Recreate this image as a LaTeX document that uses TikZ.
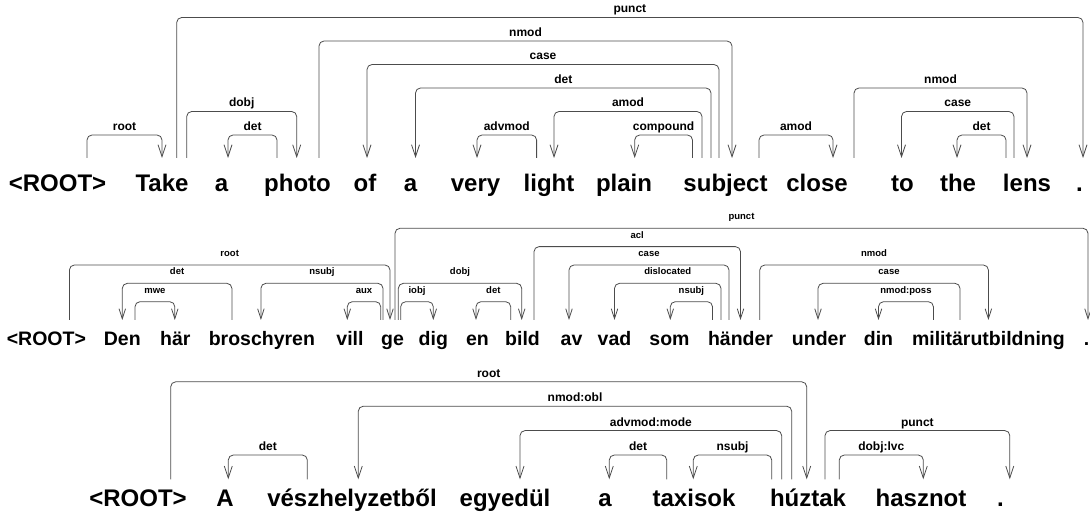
\documentclass[tikz,border=0pt]{standalone}
\usepackage{fontspec}
\setmainfont{Liberation Sans}
\usetikzlibrary{math,arrows.meta}

\tikzset{
  word/.style={font=\bfseries\fontsize{24}{24}\selectfont, anchor=base, inner sep=0pt},
  smallword/.style={word, font=\bfseries\fontsize{19.5}{20}\selectfont},
  deparc/.style={draw=black!70, line width=0.8pt, rounded corners=5pt, -{Straight Barb[length=12pt,width=8pt]}},
  smallarc/.style={deparc, -{Straight Barb[length=10pt,width=6.5pt]}},
  deplabel/.style={font=\bfseries\fontsize{12}{12}\selectfont, anchor=base, inner sep=0pt, yshift=4.5pt},
  smalllabel/.style={deplabel, font=\bfseries\fontsize{9.5}{10}\selectfont, yshift=4pt},
}

\begin{document}
\begin{tikzpicture}[x=1pt,y=1pt]
	\tikzmath{
		\gapA = 34; \lowA = 23; \stepA = 23.5;
		\gapB = 26; \lowB = 18.3; \stepB = 18.35;
		\gapC = 27.4; \lowC = 24.3; \stepC = 24.4;
	}
	\useasboundingbox (0,0) rectangle (1090,519);

	% sentence 1
	\node[word] (rootA) at (57.5,327) {<ROOT>};
	\node[word] (take) at (162,327) {Take};
	\node[word] (a1) at (221.5,327) {a};
	\node[word] (photo) at (297.5,327) {photo};
	\node[word] (of1) at (365,327) {of};
	\node[word] (a2) at (410.5,327) {a};
	\node[word] (very) at (475.5,327) {very};
	\node[word] (light) at (549,327) {light};
	\node[word] (plain) at (624,327) {plain};
	\node[word] (subject) at (725.5,327) {subject};
	\node[word] (close) at (817,327) {close};
	\node[word] (to1) at (902.5,327) {to};
	\node[word] (the1) at (958,327) {the};
	\node[word] (lens) at (1027,327) {lens};
	\node[word] (dotA) at (1079.5,327) {.};

	\foreach \src/\sx/\dst/\tx/\lvl/\lab in {
		rootA/29.5/take/0/1/root,
		take/14.7/dotA/3.5/6/punct,
		take/24.7/photo/-0.8/2/dobj,
		photo/-20.5/a1/6.5/1/det,
		photo/21.5/subject/6.5/5/nmod,
		subject/-6.5/of1/2/4/case,
		subject/-14.5/a2/5/3/det,
		light/-12.4/very/1.5/1/advmod,
		subject/-23.5/light/5/2/amod,
		subject/-33/plain/10.7/1/compound,
		subject/33.5/close/16/1/amod,
		close/37/lens/0/3/nmod,
		lens/-13/to1/-1/2/case,
		lens/-21/the1/-1/1/det}
		\draw[deparc] ([xshift=\sx pt,yshift=\gapA pt]\src.base) -- ++(0,{\lowA+\stepA*(\lvl-1)})
			-| ([xshift=\tx pt,yshift=\gapA pt]\dst.base) node[deplabel,pos=.25] {\lab};

	% sentence 2
	\node[smallword] (rootB) at (46.4,173) {<ROOT>};
	\node[smallword] (den) at (122.3,173) {Den};
	\node[smallword] (har) at (175.3,173) {här};
	\node[smallword] (brosch) at (261.9,173) {broschyren};
	\node[smallword] (vill) at (350,173) {vill};
	\node[smallword] (ge) at (392.5,173) {ge};
	\node[smallword] (dig) at (433.3,173) {dig};
	\node[smallword] (en) at (477.5,173) {en};
	\node[smallword] (bild) at (522.5,173) {bild};
	\node[smallword] (av) at (571.5,173) {av};
	\node[smallword] (vad) at (614.5,173) {vad};
	\node[smallword] (som) at (669.5,173) {som};
	\node[smallword] (hander) at (740.5,173) {händer};
	\node[smallword] (under) at (819,173) {under};
	\node[smallword] (din) at (878.5,173) {din};
	\node[smallword] (milit) at (988.4,173) {militärutbildning};
	\node[smallword] (dotB) at (1086.5,173) {.};

	\foreach \src/\sx/\dst/\tx/\lvl/\lab in {
		rootB/23/ge/-2.5/3/root,
		brosch/-30/den/0/2/det,
		den/12.7/har/-0.5/1/mwe,
		ge/-9.5/brosch/-1/2/nsubj,
		ge/-11.8/vill/-2.7/1/aux,
		ge/2.5/dotB/1.5/5/punct,
		ge/5.8/bild/-0.8/2/dobj,
		ge/8.2/dig/0/1/iobj,
		bild/-11.8/en/-1.5/1/det,
		bild/11.5/hander/0/4/acl,
		hander/-11.5/av/-2.5/3/case,
		hander/-19.5/vad/0/2/dislocated,
		hander/-28/som/0.8/1/nsubj,
		hander/19.3/milit/0/3/nmod,
		milit/-28.4/under/-1/2/case,
		milit/-55/din/0/1/nmod:poss}
		\draw[smallarc] ([xshift=\sx pt,yshift=\gapB pt]\src.base) -- ++(0,{\lowB+\stepB*(\lvl-1)})
			-| ([xshift=\tx pt,yshift=\gapB pt]\dst.base) node[smalllabel,pos=.25] {\lab};

	% sentence 3
	\node[word] (rootC) at (138,12.3) {<ROOT>};
	\node[word] (A) at (225,12.3) {A};
	\node[word] (vesz) at (352,12.3) {vészhelyzetből};
	\node[word] (egyedul) at (505,12.3) {egyedül};
	\node[word] (a3) at (605,12.3) {a};
	\node[word] (taxisok) at (694,12.3) {taxisok};
	\node[word] (huztak) at (808,12.3) {húztak};
	\node[word] (hasznot) at (921,12.3) {hasznot};
	\node[word] (dotC) at (1000.5,12.3) {.};

	\foreach \src/\sx/\dst/\tx/\lvl/\lab in {
		rootC/32.7/huztak/-1.3/4/root,
		huztak/-16.3/vesz/6.3/3/nmod:obl,
		huztak/-26.3/egyedul/15/2/advmod:mode,
		taxisok/-27.3/a3/4.3/1/det,
		huztak/-36.3/taxisok/-0.7/1/nsubj,
		vesz/-44.7/A/3.3/1/det,
		huztak/17/dotC/9.3/2/punct,
		huztak/31.3/hasznot/2.3/1/dobj:lvc}
		\draw[deparc] ([xshift=\sx pt,yshift=\gapC pt]\src.base) -- ++(0,{\lowC+\stepC*(\lvl-1)})
			-| ([xshift=\tx pt,yshift=\gapC pt]\dst.base) node[deplabel,pos=.25] {\lab};
\end{tikzpicture}
\end{document}
